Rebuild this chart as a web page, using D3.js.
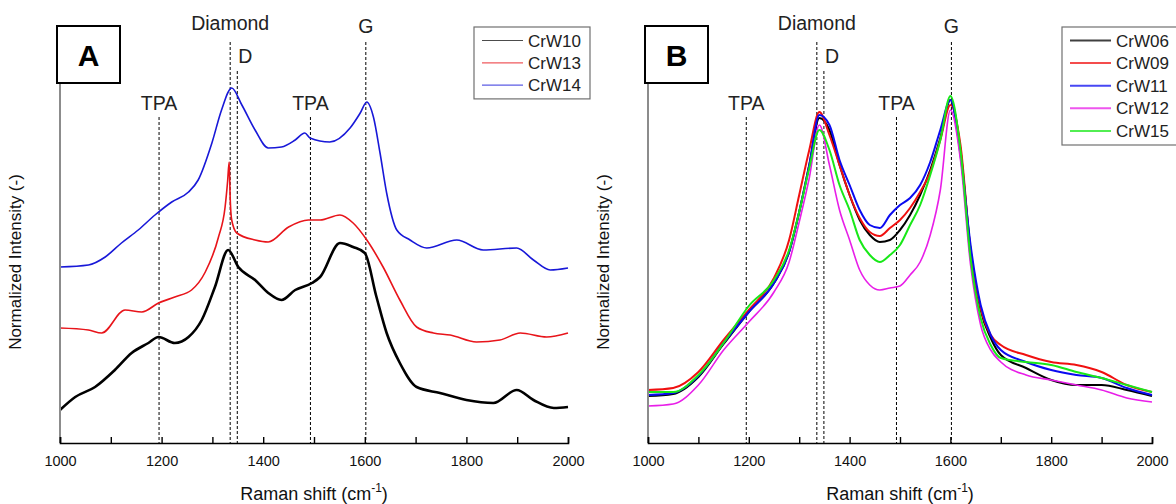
<!DOCTYPE html>
<html>
<head>
<meta charset="utf-8">
<script src="https://cdn.jsdelivr.net/npm/d3@7"></script>
<style>
  body { margin: 0; background: #ffffff; }
  svg { font-family: Arial, "Liberation Sans", sans-serif; }
</style>
</head>
<body>
<div id="mydiv"></div>
<script>
const width = 1176,
  height = 504;

const axisY = 443,
  topY = 43;

// Panel A spectra (each has its own shift grid)
const shiftA10 = [1000, 1030, 1069, 1108, 1141, 1174, 1194, 1226, 1253, 1279, 1305, 1331, 1351, 1384, 1410, 1436, 1463, 1496, 1512, 1551, 1577, 1600, 1623, 1643, 1669, 1702, 1748, 1800, 1853, 1899, 1932, 1972, 2000];
const crW10 = [33, 46, 56, 73, 90, 100, 106, 100, 106, 123, 156, 193, 176, 163, 150, 143, 153, 160, 166, 200, 196, 190, 146, 110, 80, 56, 50, 43, 40, 53, 43, 35, 36];

const shiftA13 = [1000, 1056, 1082, 1128, 1161, 1194, 1226, 1259, 1286, 1312, 1325, 1330, 1333, 1335, 1338, 1348, 1384, 1410, 1450, 1489, 1512, 1551, 1577, 1604, 1636, 1669, 1702, 1735, 1768, 1820, 1866, 1906, 1958, 2000];
const crW13 = [115, 113, 110, 133, 131, 140, 146, 153, 171, 206, 236, 262, 281, 245, 223, 210, 203, 201, 216, 223, 223, 228, 220, 203, 176, 143, 116, 110, 108, 101, 103, 110, 106, 110];

const shiftA14 = [1000, 1056, 1089, 1121, 1154, 1187, 1220, 1253, 1272, 1299, 1318, 1338, 1358, 1384, 1410, 1436, 1463, 1482, 1492, 1531, 1571, 1591, 1604, 1617, 1630, 1643, 1663, 1689, 1722, 1781, 1833, 1899, 1932, 1965, 2000];
const crW14 = [176, 178, 186, 200, 213, 228, 241, 251, 263, 300, 333, 355, 338, 313, 295, 296, 303, 310, 305, 301, 315, 330, 341, 326, 290, 250, 213, 203, 195, 203, 193, 195, 183, 173, 175];

// Panel B spectra (shared shift grid)
const shiftB = [1000, 1050, 1100, 1150, 1200, 1250, 1280, 1300, 1320, 1340, 1360, 1380, 1400, 1420, 1440, 1460, 1480, 1500, 1520, 1540, 1560, 1580, 1600, 1620, 1640, 1660, 1680, 1700, 1750, 1800, 1850, 1900, 1950, 2000];
const crW06 = [47, 49, 66, 99, 131, 160, 191, 231, 278, 325, 313, 278, 248, 223, 208, 201, 203, 213, 228, 248, 273, 305, 343, 293, 193, 133, 105, 88, 75, 63, 58, 58, 53, 47];
const crW09 = [53, 55, 71, 103, 133, 165, 203, 248, 293, 331, 308, 278, 248, 225, 211, 207, 215, 223, 235, 251, 271, 303, 338, 298, 193, 135, 108, 98, 88, 81, 78, 71, 58, 51];
const crW11 = [48, 50, 67, 100, 131, 160, 191, 231, 278, 328, 318, 283, 258, 233, 218, 215, 228, 238, 245, 258, 281, 313, 343, 288, 198, 138, 108, 93, 81, 73, 68, 65, 55, 48];
const crW12 = [37, 39, 58, 93, 121, 151, 181, 221, 265, 318, 278, 233, 203, 173, 158, 153, 155, 157, 168, 181, 208, 253, 333, 283, 178, 118, 93, 81, 68, 63, 58, 53, 45, 41];
const crW15 = [51, 51, 68, 100, 137, 163, 193, 231, 275, 313, 293, 258, 233, 203, 188, 181, 188, 198, 218, 238, 268, 303, 347, 293, 185, 125, 98, 85, 81, 78, 71, 65, 58, 51];

const namesA = ["CrW10", "CrW13", "CrW14"];
const colorsA = ["#000000", "#e8141a", "#1818d8"];
const namesB = ["CrW06", "CrW09", "CrW11", "CrW12", "CrW15"];
const colorsB = ["#000000", "#f01010", "#0a0af0", "#e81ee8", "#18e818"];

// Band markers
const markerShifts = [1195, 1335, 1349, 1493, 1602];
const markerNames = ["TPA", "Diamond", "D", "TPA", "G"];

const majorTicks = [1000, 1200, 1400, 1600, 1800, 2000];
const minorTicks = [1100, 1300, 1500, 1700, 1900];

//Setting svg
const svg = d3
  .select("#mydiv")
  .append("svg")
  .attr("width", width)
  .attr("height", height);

svg
  .append("rect")
  .attr("width", width)
  .attr("height", height)
  .attr("fill", "#ffffff");

// where each marker label sits relative to its line top
const markerLayout = [
  { top: 117, dx: 0, dy: -7, anchor: "middle" },
  { top: 42, dx: 0, dy: -12, anchor: "middle" },
  { top: 71, dx: 1, dy: -8, anchor: "start" },
  { top: 117, dx: 0, dy: -7, anchor: "middle" },
  { top: 42, dx: 0, dy: -9, anchor: "middle" },
];

function drawPanel(cfg) {
  const xScale = d3.scaleLinear().domain([1000, 2000]).range([cfg.left, cfg.right]);
  const yScale = d3.scaleLinear().domain([0, 400]).range([axisY, topY]);
  const g = svg.append("g");

  // dashed band lines
  markerShifts.forEach((s, i) => {
    const m = markerLayout[i];
    g.append("line")
      .attr("x1", xScale(s))
      .attr("x2", xScale(s))
      .attr("y1", m.top)
      .attr("y2", axisY)
      .attr("stroke", "#000")
      .attr("stroke-width", 1)
      .attr("stroke-dasharray", "3,2");
    g.append("text")
      .attr("x", xScale(s) + m.dx)
      .attr("y", m.top + m.dy)
      .attr("text-anchor", m.anchor)
      .style("font-size", "19.5px")
      .attr("fill", "#222")
      .text(markerNames[i]);
  });

  // spectra
  const line = d3
    .line()
    .curve(d3.curveMonotoneX)
    .x((d) => xScale(d[0]))
    .y((d) => yScale(d[1]));

  cfg.series.forEach((s, i) => {
    g.append("path")
      .attr("d", line(d3.zip(s.x, s.y)))
      .attr("fill", "none")
      .attr("stroke", cfg.colors[i])
      .attr("stroke-width", s.w)
      .attr("stroke-linejoin", "round");
  });

  // Y axis (no ticks)
  g.append("line")
    .attr("x1", cfg.left)
    .attr("x2", cfg.left)
    .attr("y1", 83)
    .attr("y2", axisY)
    .attr("stroke", "#8c8c8c")
    .attr("stroke-width", 2);

  // X axis
  const xAxis = d3
    .axisBottom(xScale)
    .tickValues(majorTicks)
    .tickSize(-6)
    .tickPadding(13)
    .tickFormat(d3.format("d"));
  const ax = g
    .append("g")
    .attr("transform", `translate(0, ${axisY})`)
    .call(xAxis);
  ax.select(".domain").attr("stroke-width", 1.6);
  ax.selectAll("text").style("font-size", "14.5px").attr("fill", "#111");
  ax.selectAll("line").attr("stroke-width", 1.4);

  const minorAxis = d3.axisBottom(xScale).tickValues(minorTicks).tickSize(-6).tickFormat("");
  g.append("g")
    .attr("transform", `translate(0, ${axisY})`)
    .call(minorAxis)
    .call((a) => a.select(".domain").remove())
    .selectAll("line")
    .attr("stroke-width", 1.4);

  // axis titles
  const xt = g
    .append("text")
    .attr("x", (cfg.left + cfg.right) / 2)
    .attr("y", 500)
    .attr("text-anchor", "middle")
    .style("font-size", "18px")
    .attr("fill", "#111");
  xt.append("tspan").text("Raman shift (cm");
  xt.append("tspan").attr("dy", -8).style("font-size", "12px").text("-1");
  xt.append("tspan").attr("dy", 8).text(")");

  g.append("text")
    .attr("transform", `translate(${cfg.left - 39}, 262) rotate(-90)`)
    .attr("text-anchor", "middle")
    .style("font-size", "17px")
    .attr("fill", "#111")
    .text("Normalized Intensity (-)");

  // panel letter box
  g.append("rect")
    .attr("x", cfg.left - 3)
    .attr("y", 26)
    .attr("width", 63)
    .attr("height", 57)
    .attr("fill", "#fff")
    .attr("stroke", "#000")
    .attr("stroke-width", 2);
  g.append("text")
    .attr("x", cfg.left + 28.5)
    .attr("y", 66)
    .attr("text-anchor", "middle")
    .style("font-size", "30px")
    .style("font-weight", "bold")
    .text(cfg.letter);

  // legend
  const rowH = cfg.legend.rowH;
  const lg = g.append("g");
  lg.append("rect")
    .attr("x", cfg.legend.x)
    .attr("y", 27)
    .attr("width", cfg.legend.w)
    .attr("height", cfg.names.length * rowH + 5)
    .attr("fill", "#fff")
    .attr("stroke", "#707070")
    .attr("stroke-width", 1.2);
  cfg.names.forEach((n, i) => {
    const yy = 40.5 + i * rowH;
    lg.append("line")
      .attr("x1", cfg.legend.x + 8)
      .attr("x2", cfg.legend.x + 49)
      .attr("y1", yy)
      .attr("y2", yy)
      .attr("stroke", cfg.colors[i])
      .attr("stroke-opacity", cfg.legend.op)
      .attr("stroke-width", cfg.legend.lw);
    lg.append("text")
      .attr("x", cfg.legend.x + 54)
      .attr("y", yy + 6)
      .style("font-size", "17px")
      .attr("fill", "#222")
      .text(n);
  });
}

drawPanel({
  letter: "A",
  left: 60,
  right: 568,
  names: namesA,
  colors: colorsA,
  legend: { x: 474, w: 116, rowH: 22.3, lw: 1.2, op: 0.7 },
  series: [
    { x: shiftA10, y: crW10, w: 2.6 },
    { x: shiftA13, y: crW13, w: 1.6 },
    { x: shiftA14, y: crW14, w: 1.6 },
  ],
});

drawPanel({
  letter: "B",
  left: 648,
  right: 1152,
  names: namesB,
  colors: colorsB,
  legend: { x: 1062, w: 130, rowH: 22.6, lw: 2, op: 0.75 },
  series: [
    { x: shiftB, y: crW06, w: 2 },
    { x: shiftB, y: crW09, w: 2 },
    { x: shiftB, y: crW11, w: 2 },
    { x: shiftB, y: crW12, w: 1.6 },
    { x: shiftB, y: crW15, w: 2 },
  ],
});
</script>
</body>
</html>
